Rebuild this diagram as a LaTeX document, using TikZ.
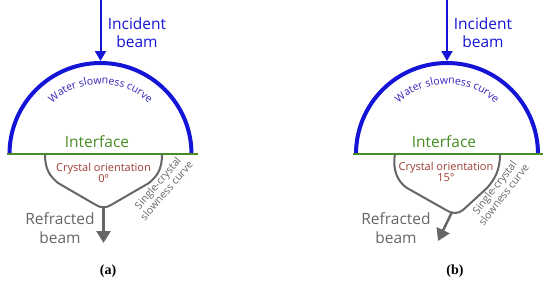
\documentclass[tikz,border=0pt]{standalone}
\usepackage{fontspec}
\setmainfont{Open Sans}
\newfontfamily\capfont{Liberation Serif}
\usepackage{tikz}
\usetikzlibrary{positioning,arrows.meta,decorations.text}
\definecolor{beamblue}{RGB}{20,20,215}
\definecolor{waterblue}{RGB}{50,35,190}
\definecolor{ifacegreen}{RGB}{70,140,35}
\definecolor{crystalred}{RGB}{155,60,50}
\colorlet{crystalgray}{black!60}
\begin{document}
\begin{tikzpicture}[x=1pt,y=1pt,every node/.style={inner sep=0pt},
    bigtext/.style={font=\fontsize{15.5}{19}\selectfont,align=center,anchor=base},
    smalltext/.style={font=\fontsize{10.5}{11.5}\selectfont,align=center,text=crystalgray},
    orienttext/.style={font=\fontsize{11}{11}\selectfont,align=center,anchor=base,text=crystalred},
    watercurve/.style={draw=beamblue,line width=4pt},
    iface/.style={draw=ifacegreen,line width=2pt},
    crystalcurve/.style={draw=crystalgray,line width=2pt,line join=round},
    incident/.style={-{Triangle[width=11pt,length=10pt]},beamblue,line width=2pt},
    refracted/.style={-{Triangle[width=14pt,length=12pt]},crystalgray,line width=2.5pt},
    subcap/.style={font=\capfont\bfseries\fontsize{14}{14}\selectfont}]
    \useasboundingbox (0,0) rectangle (550,282);
    % (a)
    \coordinate (ca) at (100.5,128);
    \draw[watercurve] (ca) ++(-91,0) arc (180:0:91);
    \path[decorate,decoration={text along path,text align=center,
      text={|\fontsize{10.5}{10.5}\selectfont\color{waterblue}|Water slowness curve}}]
      (ca) ++(150:70) arc (150:30:70);
    \draw[iface] (7,128) -- (198,128);
    \coordinate (ina0) at (100.5,282);
    \coordinate (ina1) at (100.5,221);
    \draw[incident] (ina0) -- (ina1);
    \node[bigtext,text=beamblue] (inca) at (137,234) {Incident\\beam};
    \node[bigtext,text=ifacegreen] (ifa) at (97,134.5) {Interface};
    \draw[crystalcurve] (45,128) .. controls (45,112) and (50,106) .. (58,99) -- (96,77)
      .. controls (100,74) and (107,74) .. (111,77) -- (149,99)
      .. controls (157,106) and (162,112) .. (162,128);
    \coordinate (ra0) at (103.5,75);
    \coordinate (ra1) at (103.5,39);
    \draw[refracted] (ra0) -- (ra1);
    \node[bigtext,text=crystalgray] (refa) at (60,39) {Refracted\\beam};
    \node[orienttext] (ora) at (103.5,100) {Crystal orientation\\0º};
    \node[smalltext,rotate=49] (sca) at (162,95) {Single-crystal\\slowness curve};
    \node[subcap] (laba) at (108,11) {(a)};
    % (b)
    \coordinate (cb) at (447,128);
    \draw[watercurve] (cb) ++(-91,0) arc (180:0:91);
    \path[decorate,decoration={text along path,text align=center,
      text={|\fontsize{10.5}{10.5}\selectfont\color{waterblue}|Water slowness curve}}]
      (cb) ++(150:70) arc (150:30:70);
    \draw[iface] (353,128) -- (543,128);
    \coordinate (inb0) at (447,282);
    \coordinate (inb1) at (447,221);
    \draw[incident] (inb0) -- (inb1);
    \node[bigtext,text=beamblue] (incb) at (483,234) {Incident\\beam};
    \node[bigtext,text=ifacegreen] (ifb) at (444,134.5) {Interface};
    \draw[crystalcurve] (395,128) .. controls (392,112) and (398,100) .. (407,94) -- (446,72)
      .. controls (452,68) and (458,68) .. (463,72) -- (487,94)
      .. controls (495,103) and (500,112) .. (500,128);
    \coordinate (rb0) at (452,70);
    \coordinate (rb1) at (438,41);
    \draw[refracted] (rb0) -- (rb1);
    \node[bigtext,text=crystalgray] (refb) at (396,39) {Refracted\\beam};
    \node[orienttext] (orb) at (446,101) {Crystal orientation\\15°};
    \node[smalltext,rotate=52] (scb) at (499,91) {Single-crystal\\slowness curve};
    \node[subcap] (labb) at (455,11) {(b)};
\end{tikzpicture}
\end{document}
